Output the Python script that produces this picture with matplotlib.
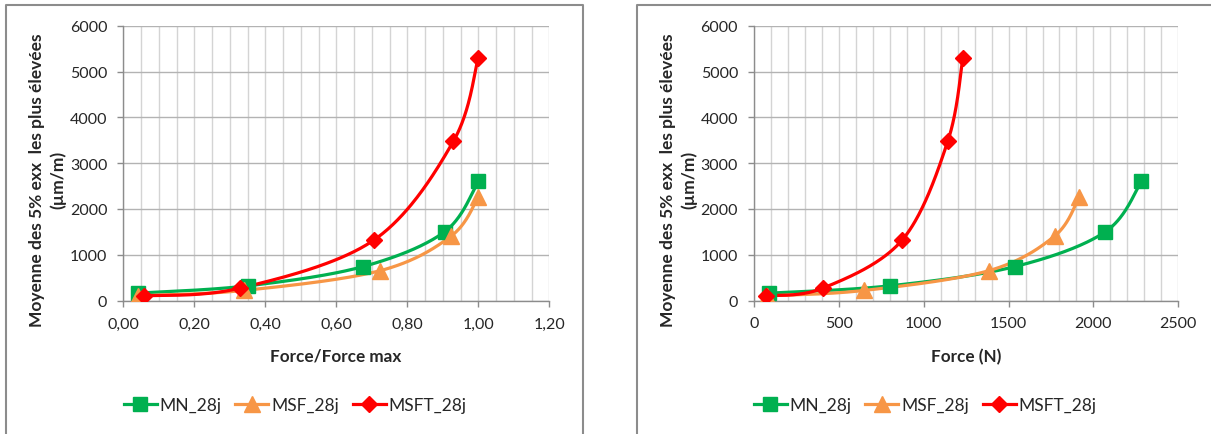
import numpy as np
import matplotlib
matplotlib.use("Agg")
import matplotlib.pyplot as plt
from matplotlib.lines import Line2D
from matplotlib.ticker import MultipleLocator

plt.rcParams['font.family'] = ['Lato', 'DejaVu Sans']

# ---------------- data ----------------
series_names = ["MN_28j", "MSF_28j", "MSFT_28j"]

# left chart: normalised force
mn_ratio = [0.04, 0.35, 0.675, 0.905, 1.00]
msf_ratio = [0.04, 0.34, 0.723, 0.924, 1.00]
msft_ratio = [0.057, 0.329, 0.706, 0.930, 1.00]

# right chart: force (N)
mn_force = [90, 800, 1537, 2070, 2283]
msf_force = [78, 650, 1383, 1772, 1916]
msft_force = [70, 406, 873, 1142, 1231]

# y values (µm/m)
mn_vals = [160, 320, 740, 1500, 2600]
msf_vals = [100, 220, 650, 1410, 2260]
msft_vals = [100, 270, 1320, 3480, 5300]

colors = ["#00B050", "#F79646", "#FF0000"]
markers = ["s", "^", "D"]
msizes = [10, 11, 8]

ylabel = "Moyenne des 5% exx  les plus élevées\n(µm/m)"

W, H = 1211, 435
fig = plt.figure(figsize=(W / 100, H / 100), dpi=100)


def smooth(x, y, n=60):
    P = np.column_stack([x, y]).astype(float)
    P = np.vstack([P[0], P, P[-1]])
    out = []
    t = np.linspace(0, 1, n)[:, None]
    for i in range(1, len(P) - 2):
        p0, p1, p2, p3 = P[i - 1], P[i], P[i + 1], P[i + 2]
        c1 = p1 + (p2 - p0) / 6.0
        c2 = p2 - (p3 - p1) / 6.0
        b = ((1 - t) ** 3) * p1 + 3 * ((1 - t) ** 2) * t * c1 + 3 * (1 - t) * t ** 2 * c2 + t ** 3 * p2
        out.append(b if i == 1 else b[1:])
    out = np.vstack(out)
    return out[:, 0], out[:, 1]


def px(x0, y0, x1, y1):
    return [x0 / W, 1 - y1 / H, (x1 - x0) / W, (y1 - y0) / H]


def make_axes(rect, xs_list, xmax, xmajor, xminor, xfmt, xlabel, xlabel_x, ylabel_x, legend_x):
    ax = fig.add_axes(rect)
    for xs, ys, c, m, ms, name in zip(xs_list, [mn_vals, msf_vals, msft_vals], colors, markers, msizes, series_names):
        sx, sy = smooth(xs, ys)
        ax.plot(sx, sy, color=c, lw=2.3, solid_capstyle='round', zorder=3)
        ax.plot(xs, ys, linestyle='none', marker=m, ms=ms, color=c, mec=c, zorder=4)
    ax.set_xlim(0, xmax)
    ax.set_ylim(0, 6000)
    ax.xaxis.set_major_locator(MultipleLocator(xmajor))
    ax.xaxis.set_minor_locator(MultipleLocator(xminor))
    ax.yaxis.set_major_locator(MultipleLocator(1000))
    ax.xaxis.set_major_formatter(xfmt)
    ax.grid(True, which='major', axis='y', color='#B3B3B3', lw=1.0, zorder=0)
    ax.grid(True, which='both', axis='x', color='#D4D4D4', lw=1.0, zorder=0)
    for s in ['top', 'right']:
        ax.spines[s].set_visible(False)
    for s in ['left', 'bottom']:
        ax.spines[s].set_color('#8C8C8C')
        ax.spines[s].set_linewidth(1.0)
    ax.tick_params(which='major', length=4.5, width=1.0, color='#8C8C8C', labelsize=11.5,
                   labelcolor='#262626', pad=7)
    ax.tick_params(which='minor', length=0)
    ax.set_axisbelow(True)
    # axis labels
    fig.text(xlabel_x / W, 1 - 357 / H, xlabel, ha='center', va='center', fontsize=12.3,
             fontweight='bold', color='#262626')
    fig.text(ylabel_x / W, 1 - 180 / H, ylabel, ha='center', va='center', rotation=90,
             fontsize=12.5, fontweight='bold', color='#262626', multialignment='center',
             linespacing=1.35)
    handles = [Line2D([], [], color=c, lw=2.3, marker=m, ms=ms, mec=c)
               for c, m, ms in zip(colors, markers, msizes)]
    fig.legend(handles, series_names, loc='center', bbox_to_anchor=(legend_x / W, 1 - 406 / H),
               ncol=3, frameon=False, fontsize=12.5, handlelength=1.9, handletextpad=0.15,
               columnspacing=0.8, labelcolor='#262626')
    return ax


ratio_fmt = matplotlib.ticker.FuncFormatter(lambda v, p: f"{v:.2f}".replace('.', ','))
force_fmt = matplotlib.ticker.FuncFormatter(lambda v, p: f"{v:.0f}")

make_axes(px(123.3, 26.7, 549.3, 301.5), [mn_ratio, msf_ratio, msft_ratio], 1.2, 0.2, 0.05,
          ratio_fmt, "Force/Force max", 336, 48, 295)
make_axes(px(754, 26.7, 1178.3, 301.5), [mn_force, msf_force, msft_force], 2500, 500, 100,
          force_fmt, "Force (N)", 966, 679, 925)

# chart frames
fc = '#8C8C8C'
fig.add_artist(Line2D([6 / W, 6 / W, 583 / W, 583 / W], [0, 1 - 5.5 / H, 1 - 5.5 / H, 0],
                      color=fc, lw=1.5))
fig.add_artist(Line2D([637 / W, 637 / W, 1.0], [0, 1 - 5.5 / H, 1 - 5.5 / H],
                      color=fc, lw=1.5))

fig.savefig("out.png", dpi=100)
